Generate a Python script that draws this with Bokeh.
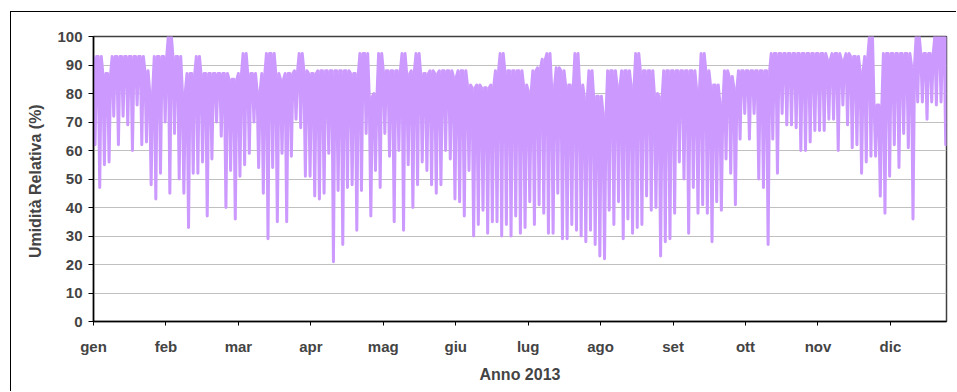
from bokeh.plotting import figure
from bokeh.models import Range1d, FixedTicker
from bokeh.embed import file_html
from bokeh.resources import INLINE

# Month tick labels (Excel category axis: a label every 744 hourly points)
month_labels = ["gen", "feb", "mar", "apr", "mag", "giu", "lug", "ago", "set", "ott", "nov", "dic"]
month_ticks = [0, 744, 1488, 2232, 2976, 3720, 4464, 5208, 5952, 6696, 7440, 8184]
hours_in_year = 8760
block_hours = 48  # each high/low pair spans two days

# Relative humidity (%): high and low for each 2-day block
rh_high = [
    93, 93, 87, 87, 93, 93, 93, 93, 93, 93, 93, 88, 81, 93, 93, 93, 100, 93, 93, 81,
    87, 87, 93, 87, 87, 87, 87, 87, 87, 85, 85, 87, 94, 87, 87, 81, 87, 94, 94, 87,
    85, 87, 87, 88, 94, 88, 87, 87, 88, 88, 88, 88, 88, 88, 88, 87, 87, 94, 94, 79,
    80, 94, 88, 88, 88, 88, 94, 87, 88, 94, 87, 87, 88, 87, 88, 88, 88, 86, 88, 88,
    83, 82, 83, 82, 82, 83, 88, 94, 88, 88, 88, 88, 83, 81, 88, 89, 92, 94, 83, 89,
    88, 83, 83, 94, 83, 79, 88, 79, 79, 73, 88, 88, 83, 88, 88, 83, 94, 88, 88, 88,
    80, 79, 88, 88, 88, 88, 88, 88, 88, 82, 94, 88, 83, 83, 77, 88, 86, 82, 88, 88,
    88, 88, 88, 88, 88, 94, 94, 94, 94, 94, 94, 94, 94, 94, 94, 94, 94, 92, 94, 94,
    92, 94, 93, 93, 88, 93, 100, 76, 76, 94, 94, 94, 94, 94, 94, 90, 100, 94, 94, 94,
    100, 100, 100,
]
rh_low = [
    62, 47, 55, 56, 72, 62, 72, 69, 60, 76, 62, 63, 48, 43, 52, 70, 45, 66, 50, 45,
    33, 52, 52, 56, 37, 57, 70, 65, 40, 53, 36, 51, 55, 59, 70, 54, 45, 29, 54, 35,
    59, 35, 58, 71, 68, 51, 51, 44, 43, 45, 59, 21, 46, 27, 47, 48, 32, 46, 66, 37,
    53, 47, 66, 58, 35, 60, 32, 55, 40, 48, 56, 53, 48, 45, 48, 60, 57, 43, 42, 37,
    53, 30, 34, 39, 31, 35, 35, 30, 34, 30, 37, 31, 33, 42, 34, 41, 38, 31, 31, 45,
    29, 29, 34, 32, 30, 28, 32, 27, 23, 22, 39, 34, 42, 29, 36, 31, 33, 34, 44, 39,
    40, 23, 28, 29, 38, 56, 50, 31, 47, 38, 41, 38, 28, 42, 39, 57, 52, 41, 64, 73,
    64, 73, 50, 47, 27, 64, 52, 73, 69, 69, 68, 60, 60, 63, 67, 67, 67, 71, 71, 60,
    76, 69, 61, 62, 52, 56, 58, 58, 44, 38, 51, 62, 54, 66, 61, 36, 77, 77, 71, 77,
    76, 77, 62,
]

# Each block: short high plateau, then one dip to the block's low
xs, ys = [], []
for k, (hi, lo) in enumerate(zip(rh_high, rh_low)):
    t0 = k * block_hours
    xs += [t0, t0 + 16, t0 + 32]
    ys += [hi, lo, hi]
xs = [min(x, hours_in_year) for x in xs]

FONT = "Liberation Sans"

p = figure(
    width=946, height=380,
    output_backend="svg", toolbar_location=None,
    x_range=Range1d(0, hours_in_year), y_range=Range1d(0, 100),
    min_border_left=82, min_border_right=11, min_border_top=24, min_border_bottom=71,
)
p.margin = (11, 0, 0, 10)
p.styles = {"border-left": "1px solid #000000", "border-top": "1px solid #000000"}

p.background_fill_color = "white"
p.border_fill_color = "white"
p.outline_line_color = "#404040"
p.outline_line_width = 1.5

p.line(xs, ys, line_color="#CC99FF", line_width=3, line_join="round")

# Y axis
p.yaxis.ticker = FixedTicker(ticks=list(range(0, 101, 10)))
p.yaxis.axis_label = "Umidità Relativa  (%)"
p.yaxis.axis_label_text_font = FONT
p.yaxis.axis_label_text_font_style = "bold"
p.yaxis.axis_label_text_font_size = "16px"
p.yaxis.axis_label_standoff = 10
p.yaxis.major_label_text_font = FONT
p.yaxis.major_label_text_font_style = "bold"
p.yaxis.major_label_text_font_size = "15px"
p.yaxis.major_label_standoff = 6
p.yaxis.major_tick_out = 5
p.yaxis.major_tick_in = 0
p.yaxis.minor_tick_out = 0
p.yaxis.minor_tick_in = 0
p.yaxis.axis_line_color = "#000000"
p.yaxis.axis_line_width = 1.5
p.yaxis.major_tick_line_color = "#000000"

# X axis
p.xaxis.ticker = FixedTicker(ticks=month_ticks)
p.xaxis.major_label_overrides = {t: lab for t, lab in zip(month_ticks, month_labels)}
p.xaxis.axis_label = "Anno 2013"
p.xaxis.axis_label_text_font = FONT
p.xaxis.axis_label_text_font_style = "bold"
p.xaxis.axis_label_text_font_size = "16px"
p.xaxis.axis_label_standoff = 8
p.xaxis.major_label_text_font = FONT
p.xaxis.major_label_text_font_style = "bold"
p.xaxis.major_label_text_font_size = "15px"
p.xaxis.major_label_standoff = 12
p.xaxis.major_tick_out = 4
p.xaxis.major_tick_in = 0
p.xaxis.minor_tick_out = 0
p.xaxis.minor_tick_in = 0
p.xaxis.axis_line_color = "#000000"
p.xaxis.axis_line_width = 1.5
p.xaxis.major_tick_line_color = "#000000"

p.xgrid.grid_line_color = None
p.ygrid.grid_line_color = "#C0C0C0"
p.ygrid.grid_line_width = 1

open("out.html", "w").write(file_html(p, INLINE))
